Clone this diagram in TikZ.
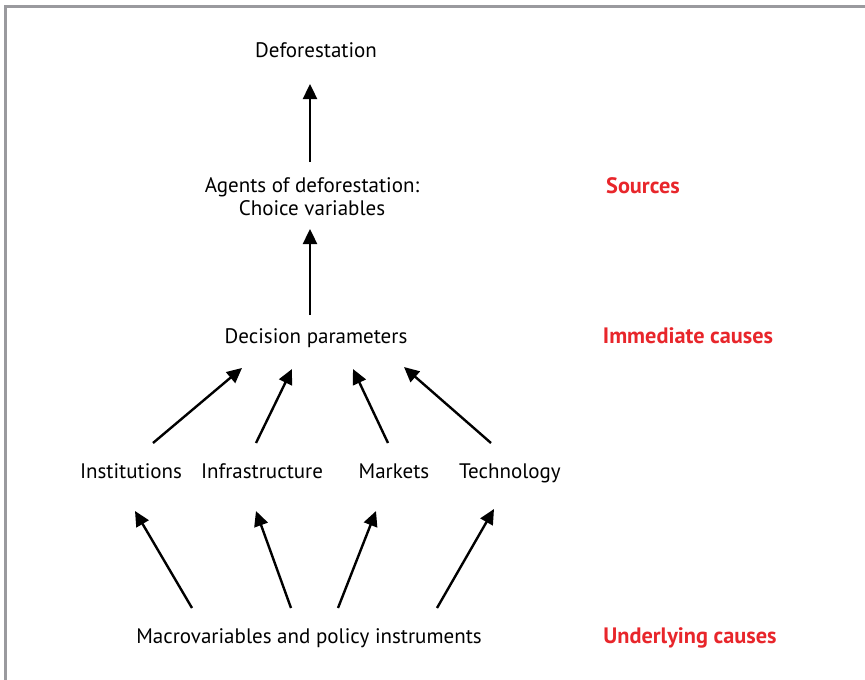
\documentclass[tikz,border=0pt]{standalone}
\usepackage{fontspec}
\setmainfont{PT Sans}
\usetikzlibrary{arrows.meta}
\definecolor{redlab}{HTML}{E8262B}
\definecolor{framegray}{HTML}{9A9A9E}
\begin{document}
\begin{tikzpicture}[x=1pt,y=-1pt,
  lab/.style={font=\fontsize{21}{23}\selectfont, inner sep=0pt, align=center},
  blab/.style={lab, anchor=base},
  cause/.style={font=\bfseries\fontsize{22.3}{26}\selectfont, text=redlab, inner sep=0pt, anchor=base},
  arr/.style={line width=2.4pt, -{Triangle[length=15pt,width=14pt]}}]
\useasboundingbox (0,0) rectangle (865,680);
\draw[framegray, line width=2.2pt] (5.5,680) -- (5.5,6.5) -- (865,6.5);
% labels
\node[blab] (defo) at (316,57) {Deforestation};
\node[lab] (agents) at (312,197) {Agents of deforestation:\\Choice variables};
\node[blab] (decis) at (316,343) {Decision parameters};
\node[blab] (inst) at (131,478) {Institutions};
\node[blab] (infra) at (262,478) {Infrastructure};
\node[blab] (mark) at (394,478) {Markets};
\node[blab] (tech) at (510,478) {Technology};
\node[blab] (macro) at (309,643) {Macrovariables and policy instruments};
\node[cause] (src) at (643,193) {Sources};
\node[cause] (imm) at (688,343) {Immediate causes};
\node[cause] (und) at (690,643) {Underlying causes};
% arrow end points
\coordinate (a1s) at (310,162); \coordinate (a1e) at (310,84);
\coordinate (a2s) at (310,315); \coordinate (a2e) at (310,229);
\coordinate (b1s) at (153,443); \coordinate (b1e) at (242,368);
\coordinate (b2s) at (256,443); \coordinate (b2e) at (292,369);
\coordinate (b3s) at (388,443); \coordinate (b3e) at (353,369);
\coordinate (b4s) at (491,443); \coordinate (b4e) at (404,367);
\coordinate (c1s) at (192,608); \coordinate (c1e) at (135,511);
\coordinate (c2s) at (291,608); \coordinate (c2e) at (256,511);
\coordinate (c3s) at (338,608); \coordinate (c3e) at (376,511);
\coordinate (c4s) at (437,608); \coordinate (c4e) at (494,509);
\draw[arr] (a1s) -- (a1e);
\draw[arr] (a2s) -- (a2e);
\draw[arr] (b1s) -- (b1e);
\draw[arr] (b2s) -- (b2e);
\draw[arr] (b3s) -- (b3e);
\draw[arr] (b4s) -- (b4e);
\draw[arr] (c1s) -- (c1e);
\draw[arr] (c2s) -- (c2e);
\draw[arr] (c3s) -- (c3e);
\draw[arr] (c4s) -- (c4e);
\end{tikzpicture}
\end{document}
